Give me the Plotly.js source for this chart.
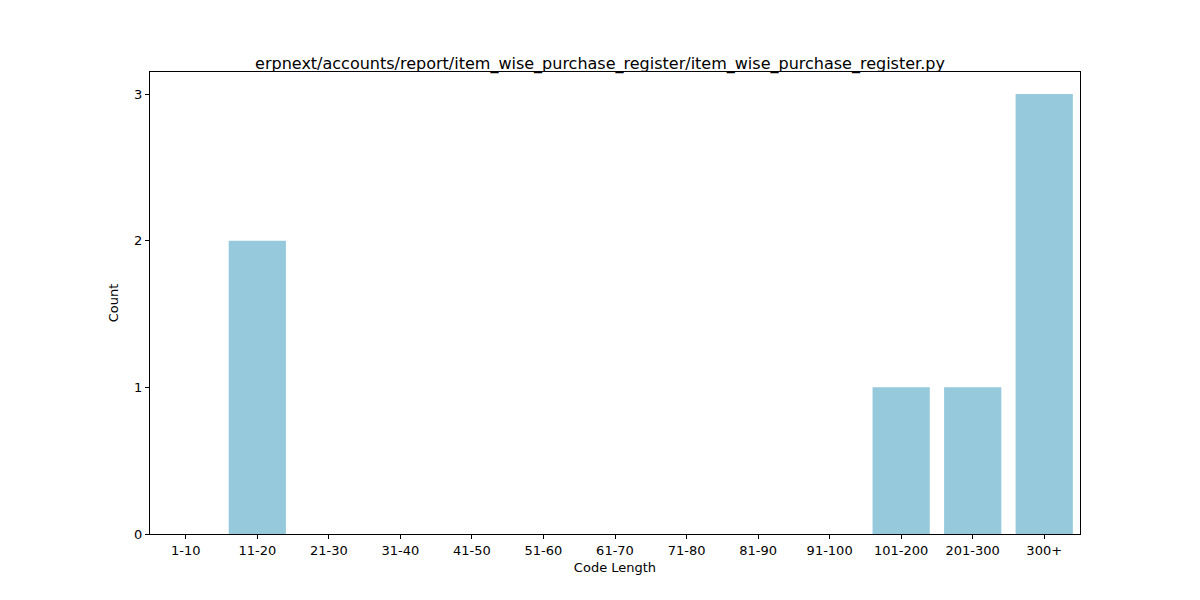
<!DOCTYPE html>
<html>
<head>
<meta charset="utf-8">
<script src="https://cdn.plot.ly/plotly-3.0.1.min.js"></script>
<style>html,body{margin:0;padding:0;background:#fff}</style>
</head>
<body>
<div id="chart" style="width:1200px;height:600px"></div>
<script>
const categories = ["1-10", "11-20", "21-30", "31-40", "41-50", "51-60", "61-70",
  "71-80", "81-90", "91-100", "101-200", "201-300", "300+"];
const counts = [0, 2, 0, 0, 0, 0, 0, 0, 0, 0, 1, 1, 3];
const yTicks = [0, 1, 2, 3];

const font = { family: "DejaVu Sans, sans-serif", size: 13, color: "#000" };

const trace = {
  type: "bar",
  x: categories,
  y: counts,
  width: 0.8,
  marker: { color: "#96c9dc" },
  hoverinfo: "x+y",
};

const axisStyle = {
  showline: true,
  mirror: true,
  linecolor: "#000",
  linewidth: 1,
  ticks: "outside",
  ticklen: 4,
  tickcolor: "#000",
  showgrid: false,
  zeroline: false,
  tickfont: font,
};

const layout = {
  width: 1200,
  height: 600,
  margin: { l: 150, r: 120, t: 72, b: 66 },
  paper_bgcolor: "#fff",
  plot_bgcolor: "#fff",
  font: font,
  title: {
    text: "erpnext/accounts/report/item_wise_purchase_register/item_wise_purchase_register.py",
    font: { family: "DejaVu Sans, sans-serif", size: 16, color: "#000" },
    x: 0.5, xanchor: "center", y: 0.885, yanchor: "bottom",
  },
  xaxis: {
    ...axisStyle,
    type: "category",
    range: [-0.5, 12.5],
    title: { text: "Code Length", font: font, standoff: 6 },
  },
  yaxis: {
    ...axisStyle,
    range: [0, 3.15],
    tickvals: yTicks,
    title: { text: "Count", font: font, standoff: 12 },
  },
  showlegend: false,
};

Plotly.newPlot("chart", [trace], layout, { displayModeBar: false });
</script>
</body>
</html>
